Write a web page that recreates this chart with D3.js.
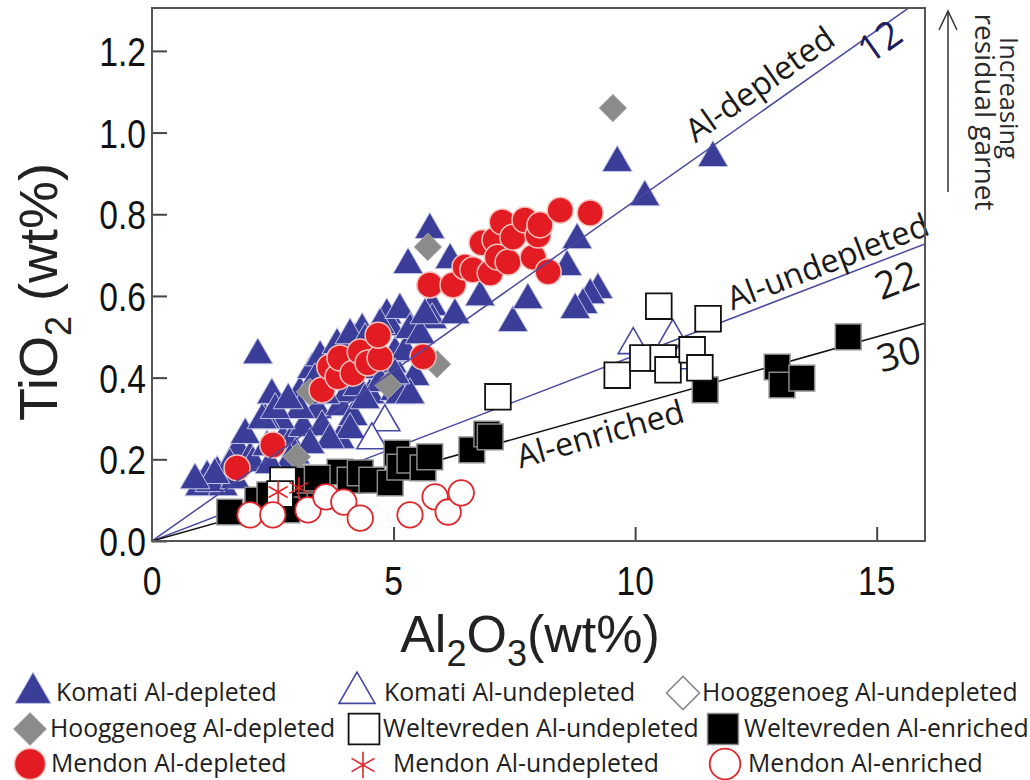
<!DOCTYPE html>
<html><head><meta charset="utf-8">
<script src="https://cdn.jsdelivr.net/npm/d3@7"></script>
<style>body{margin:0;background:#fff}svg{display:block}</style>
</head><body>
<svg id="c" width="1030" height="780"></svg>
<script>
// ---------- data: [Al2O3 wt%, TiO2 wt%] ----------
const komatiDepleted = [
 [0.99,0.132],[1.14,0.157],[1.35,0.167],[1.47,0.132],[1.20,0.142],[1.78,0.223],[2.03,0.203],[2.09,0.191],
 [2.38,0.230],[2.71,0.247],[2.19,0.455],[2.48,0.357],[2.86,0.240],[3.06,0.362],[3.13,0.277],[3.31,0.419],
 [3.48,0.450],[3.42,0.321],[3.52,0.279],[3.83,0.480],[3.89,0.328],[3.89,0.247],[4.16,0.304],[4.04,0.362],
 [4.26,0.377],[4.51,0.357],[4.57,0.419],[4.62,0.480],[4.86,0.553],[4.93,0.524],[4.97,0.433],[5.03,0.460],
 [5.03,0.365],[5.24,0.463],[5.44,0.402],[5.30,0.676],[5.75,0.762],[5.80,0.573],[5.80,0.541],[6.17,0.688],
 [6.27,0.553],[6.79,0.597],[7.47,0.534],[7.78,0.590],[8.59,0.671],[8.80,0.737],[9.63,0.926],[10.20,0.842],
 [11.61,0.938],[9.23,0.615],[9.07,0.602],[8.92,0.578],[8.76,0.566],[3.68,0.426],[4.00,0.406],[4.41,0.443],
 [4.72,0.387],[4.20,0.492],[4.35,0.517],[5.13,0.357],[3.06,0.321],[3.58,0.357],[2.65,0.296],[2.34,0.296],
 [1.61,0.186],[1.93,0.260],[2.96,0.210],
 [2.28,0.296],[2.55,0.321],[2.82,0.345],[3.37,0.394],[4.00,0.455],[4.10,0.504],[4.41,0.492],[4.72,0.529],
 [5.13,0.566],[5.34,0.517],[5.55,0.504],[5.65,0.553],[5.34,0.357],[4.10,0.272],[3.68,0.247],[3.27,0.235],
 [2.86,0.198],[2.44,0.186],[1.72,0.149],[1.30,0.162],[0.89,0.149],[5.03,0.406],[4.41,0.345]
];
const komatiUndepleted = [[4.82,0.291],[4.55,0.247],[9.96,0.480],[10.78,0.500],[10.16,0.438],[10.93,0.443]];
const hoogUndepleted = [];
const hoogDepleted = [[9.54,1.060],[5.71,0.720],[5.90,0.433],[3.27,0.365],[3.00,0.206],[4.89,0.382]];
const mendonDepleted = [
 [1.76,0.179],[2.50,0.235],[3.52,0.370],[3.68,0.426],[3.85,0.402],[3.89,0.448],[4.16,0.411],[4.31,0.463],
 [4.47,0.436],[4.72,0.448],[4.68,0.504],[5.61,0.451],[5.75,0.627],[6.23,0.627],[6.48,0.671],[6.64,0.664],
 [6.83,0.730],[7.00,0.656],[7.10,0.737],[7.15,0.695],[7.25,0.781],[7.37,0.683],[7.47,0.744],[7.72,0.786],
 [7.89,0.695],[7.99,0.749],[8.03,0.774],[8.20,0.659],[8.45,0.810],[9.07,0.803]
];
const weltEnriched = [
 [1.61,0.071],[2.19,0.100],[2.55,0.088],[2.86,0.100],[3.06,0.108],[3.48,0.132],[3.89,0.169],[4.10,0.149],
 [4.31,0.167],[4.55,0.149],[4.93,0.142],[5.07,0.215],[5.13,0.181],[5.34,0.198],[5.61,0.179],[5.75,0.206],
 [6.62,0.223],[6.93,0.262],[7.00,0.255],[2.79,0.076],[2.44,0.113],[3.21,0.149],[3.42,0.154],
 [11.45,0.370],[12.94,0.426],[13.04,0.382],[13.45,0.399],[14.41,0.500]
];
const weltUndepleted = [[2.71,0.149],[2.65,0.115],[7.16,0.353],[10.49,0.575],[11.51,0.544],[9.63,0.406],
 [10.16,0.448],[10.58,0.448],[10.68,0.419],[11.18,0.468],[11.34,0.424]];
const mendonEnriched = [[2.03,0.064],[2.50,0.064],[3.23,0.076],[3.60,0.108],[3.97,0.095],[4.31,0.056],
 [5.34,0.064],[5.86,0.108],[6.13,0.071],[6.40,0.118]];
const mendonUndepleted = [[2.61,0.120],[3.04,0.130]];

const ratios = [12, 22, 30];           // Al2O3/TiO2 reference lines
const ratioNames = ["Al-depleted","Al-undepleted","Al-enriched"];
const xTicks = [0,5,10,15];
const xTickLabels = ["0","5","10","15"];
const yTicks = [0,0.2,0.4,0.6,0.8,1.0,1.2];
const yTickLabels = ["0.0","0.2","0.4","0.6","0.8","1.0","1.2"];
const legendLabels = ["Komati Al-depleted","Komati Al-undepleted","Hooggenoeg Al-undepleted",
 "Hooggenoeg Al-depleted","Weltevreden Al-undepleted","Weltevreden Al-enriched",
 "Mendon Al-depleted","Mendon Al-undepleted","Mendon Al-enriched"];
const legendTypes = ["triFill","triOpen","diaOpen","diaFill","sqOpen","sqFill","cirFill","ast","cirOpen"];

// ---------- layout ----------
const svg = d3.select("#c");
const X0=152, X1=925, Y0=541, Y1=8;
const x = d3.scaleLinear().domain([0,16]).range([X0,X1]);
const y = d3.scaleLinear().domain([0,1.305]).range([Y0,Y1]);
svg.append("rect").attr("width",1030).attr("height",780).attr("fill","#fff");

const sty = {
 triFill:{sym:d3.symbolTriangle, a:390, fill:"#3b3e98", stroke:"#c3c6e8", sw:1},
 triOpen:{sym:d3.symbolTriangle, a:390, fill:"#fff", stroke:"#4448a0", sw:1.6},
 diaFill:{sym:d3.symbolSquare, a:380, rot:45, fill:"#8b8b8b", stroke:"#b0b0b0", sw:0.8},
 diaOpen:{sym:d3.symbolSquare, a:380, rot:45, fill:"#fff", stroke:"#8b8b8b", sw:1.6},
 sqFill:{sym:d3.symbolSquare, a:660, fill:"#000", stroke:"#8a8a8a", sw:1.5},
 sqOpen:{sym:d3.symbolSquare, a:660, fill:"#fff", stroke:"#111", sw:1.8},
 cirFill:{sym:d3.symbolCircle, a:531, fill:"#e31b23", stroke:"#f6c3bc", sw:1.5},
 cirOpen:{sym:d3.symbolCircle, a:510, fill:"#fff", stroke:"#e0262b", sw:1.8},
 ast:{sym:d3.symbolAsterisk, a:342, fill:"none", stroke:"#e3262b", sw:1.6}
};
function mark(g, type, cx, cy, k){
  const s = sty[type];
  g.append("path")
   .attr("d", d3.symbol(s.sym, s.a*k*k)())
   .attr("transform", `translate(${cx},${cy})` + (s.rot?` rotate(${s.rot})`:""))
   .attr("fill", s.fill).attr("stroke", s.stroke).attr("stroke-width", s.sw);
}
function series(data, type){
  const g = svg.append("g");
  data.forEach(d => mark(g, type, x(d[0]), y(d[1]), 1));
}

svg.append("clipPath").attr("id","pc").append("rect")
  .attr("x",X0).attr("y",Y1).attr("width",X1-X0).attr("height",Y0-Y1);

series(komatiDepleted,"triFill");
series(komatiUndepleted,"triOpen");
series(hoogUndepleted,"diaOpen");
series(hoogDepleted,"diaFill");
series(mendonDepleted,"cirFill");

// reference lines
const lineCols = ["#4a4ba0","#4a4ba0","#111"];
const lg = svg.append("g").attr("clip-path","url(#pc)");
ratios.forEach((r,i)=>{
  lg.append("line").attr("x1",x(0)).attr("y1",y(0)).attr("x2",x(16)).attr("y2",y(16/r))
    .attr("stroke",lineCols[i]).attr("stroke-width",1.5);
});

series(weltEnriched,"sqFill");
series(weltUndepleted,"sqOpen");
series(mendonEnriched,"cirOpen");
series(mendonUndepleted,"ast");

// line labels
function ang(r){ const p0=[x(0),y(0)], p1=[x(10),y(10/r)]; return Math.atan2(p1[1]-p0[1], p1[0]-p0[0])*180/Math.PI; }
const labFont = "'Open Sans', sans-serif";
function lineText(r, ax, dy, txt, size, col){
  svg.append("text").attr("transform",`translate(${x(ax)},${y(ax/r)}) rotate(${ang(r)})`)
    .attr("y",dy).attr("text-anchor","middle").attr("font-family",labFont)
    .attr("font-size",size).attr("fill",col).text(txt);
}
lineText(12, 12.86, -12, ratioNames[0], 32.5, "#1a1a1a");
lineText(22, 14.12, -7, ratioNames[1], 32.5, "#1a1a1a");
lineText(30, 9.17, 30, ratioNames[2], 32.5, "#1a1a1a");
lineText(12, 14.94, 24, String(ratios[0]), 38, "#1c1c5a");
lineText(22, 15.24, 37, String(ratios[1]), 38, "#1a1a1a");
lineText(30, 15.33, 36, String(ratios[2]), 38, "#1a1a1a");

// axes ticks (inward)
const ax = svg.append("g");
ax.append("g").attr("transform",`translate(${X0},0)`)
  .call(d3.axisLeft(y).tickValues(yTicks).tickSize(-15).tickFormat(""))
  .call(g=>g.select(".domain").remove());
ax.append("g").attr("transform",`translate(0,${Y0})`)
  .call(d3.axisBottom(x).tickValues(xTicks.slice(1)).tickSize(-14).tickFormat(""))
  .call(g=>g.select(".domain").remove());
ax.selectAll(".tick line").attr("stroke","#444").attr("stroke-width",2);
svg.append("rect").attr("x",X0).attr("y",Y1).attr("width",X1-X0).attr("height",Y0-Y1)
  .attr("fill","none").attr("stroke","#555").attr("stroke-width",2);

const tickFont = "'Liberation Sans', Arial, sans-serif";
yTicks.forEach((v,i)=>{
  svg.append("g").attr("transform",`translate(${X0-6},${y(v)+15}) scale(0.82,1)`)
   .append("text").attr("text-anchor","end").attr("font-family",tickFont).attr("font-size",41)
   .attr("fill","#111").text(yTickLabels[i]);
});
xTicks.forEach((v,i)=>{
  svg.append("g").attr("transform",`translate(${x(v)},${595}) scale(0.82,1)`)
   .append("text").attr("text-anchor","middle").attr("font-family",tickFont).attr("font-size",41)
   .attr("fill","#111").text(xTickLabels[i]);
});

// axis titles
const yt = svg.append("text").attr("transform","translate(57,292) rotate(-90)")
  .attr("text-anchor","middle").attr("font-family",tickFont).attr("font-size",54).attr("fill","#222");
yt.append("tspan").text("TiO");
yt.append("tspan").attr("font-size",36).attr("dy",14).text("2");
yt.append("tspan").attr("dy",-14).text(" (wt%)");

const xt = svg.append("text").attr("transform","translate(530,652)")
  .attr("text-anchor","middle").attr("font-family",tickFont).attr("font-size",52).attr("fill","#222");
xt.append("tspan").text("Al");
xt.append("tspan").attr("font-size",36).attr("dy",14).text("2");
xt.append("tspan").attr("dy",-14).text("O");
xt.append("tspan").attr("font-size",36).attr("dy",14).text("3");
xt.append("tspan").attr("dy",-14).text("(wt%)");

// garnet arrow annotation
svg.append("line").attr("x1",948).attr("y1",192).attr("x2",948).attr("y2",11)
  .attr("stroke","#333").attr("stroke-width",1.5);
svg.append("polyline").attr("points","939,30 948,11 957,30").attr("fill","none")
  .attr("stroke","#333").attr("stroke-width",1.5);
svg.append("text").attr("transform","translate(1000,98) rotate(90)").attr("text-anchor","middle")
  .attr("font-family",labFont).attr("font-size",25.5).attr("fill","#2a2a2a").text("Increasing");
svg.append("text").attr("transform","translate(975,112) rotate(90)").attr("text-anchor","middle")
  .attr("font-family",labFont).attr("font-size",28).attr("fill","#2a2a2a").text("residual garnet");

// legend
const legSym = [[33,693],[357,693],[683,693],[30,729],[364,729],[723,729],[30,764],[363,765],[725,764]];
const legTx = [56,384,702,50,383,744,51,393,748];
const legBase = [701,701,701,737,737,737,772,772,772];
const leg = svg.append("g");
legendLabels.forEach((t,i)=>{
  mark(leg, legendTypes[i], legSym[i][0], legSym[i][1], 1.2);
  leg.append("text").attr("x",legTx[i]).attr("y",legBase[i]).attr("font-family",labFont)
    .attr("font-size",24.8).attr("fill","#1e1e1e").text(t);
});
</script>
</body></html>
